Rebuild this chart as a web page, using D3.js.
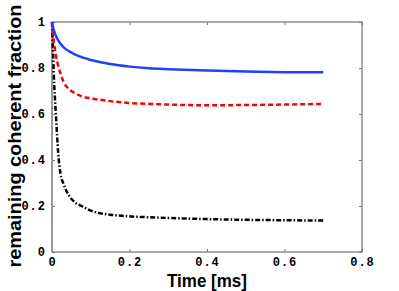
<!DOCTYPE html>
<html>
<head>
<meta charset="utf-8">
<script src="https://cdn.jsdelivr.net/npm/d3@7"></script>
<style>
  body { margin: 0; background: #fff; }
  svg { display: block; }
</style>
</head>
<body>
<svg width="399" height="291"></svg>
<script>
// time samples [ms] shared by all series
const times = [0, 0.003, 0.006, 0.01, 0.016, 0.022, 0.03, 0.046, 0.06, 0.08, 0.1, 0.12, 0.15, 0.2, 0.25, 0.3, 0.4, 0.5, 0.6, 0.7];
const blueVals = [1, 0.975, 0.958, 0.94, 0.92, 0.905, 0.89, 0.871, 0.858, 0.845, 0.835, 0.827, 0.817, 0.806, 0.799, 0.795, 0.789, 0.785, 0.782, 0.781];
const redVals = [1, 0.94, 0.9, 0.855, 0.81, 0.775, 0.74, 0.705, 0.69, 0.675, 0.668, 0.663, 0.656, 0.648, 0.644, 0.641, 0.638, 0.639, 0.641, 0.644];
const blackVals = [1, 0.85, 0.72, 0.6, 0.43, 0.34, 0.295, 0.24, 0.215, 0.197, 0.18, 0.17, 0.162, 0.155, 0.151, 0.148, 0.143, 0.14, 0.138, 0.137];
const xTicks = [0, 0.2, 0.4, 0.6, 0.8];
const yTicks = [0, 0.2, 0.4, 0.6, 0.8, 1];

const svg = d3.select('svg');
const margin = { top: 22, right: 37, bottom: 39, left: 52 };
const width = 399 - margin.left - margin.right;
const height = 291 - margin.top - margin.bottom;

const chart = svg.append('g')
    .attr('transform', `translate(${margin.left},${margin.top})`);

const x = d3.scaleLinear().domain([0, 0.8]).range([0, width]);
const y = d3.scaleLinear().domain([0, 1]).range([height, 0]);

// frame
chart.append('rect')
    .attr('width', width)
    .attr('height', height)
    .attr('fill', 'none')
    .attr('stroke', '#555')
    .attr('stroke-width', 1);

const tickFont = g => g.selectAll('text')
    .style('font-family', '"Liberation Mono", "DejaVu Sans Mono", monospace')
    .style('font-size', '12px')
    .style('font-weight', 'bold')
    .style('letter-spacing', '1px')
    .attr('fill', '#000');

const clean = g => {
    g.select('.domain').remove();
    g.selectAll('.tick line').attr('stroke', '#777');
};

// bottom axis
chart.append('g')
    .attr('transform', `translate(0,${height})`)
    .call(d3.axisBottom(x).tickValues(xTicks).tickSizeInner(-3).tickSizeOuter(0).tickPadding(5)
        .tickFormat(d => d === 0 ? '0' : d3.format('.1f')(d)))
    .call(clean)
    .call(tickFont);

// top ticks
chart.append('g')
    .call(d3.axisTop(x).tickValues(xTicks).tickSizeInner(-3).tickSizeOuter(0).tickFormat(''))
    .call(clean);

// left axis
chart.append('g')
    .call(d3.axisLeft(y).tickValues(yTicks).tickSizeInner(-3).tickSizeOuter(0).tickPadding(6)
        .tickFormat(d => d === 0 ? '0' : d === 1 ? '1' : d3.format('.1f')(d)))
    .call(clean)
    .call(tickFont);

// right ticks
chart.append('g')
    .attr('transform', `translate(${width},0)`)
    .call(d3.axisRight(y).tickValues(yTicks).tickSizeInner(-3).tickSizeOuter(0).tickFormat(''))
    .call(clean);

// thicker grey left spine
chart.append('line')
    .attr('x1', 0).attr('x2', 0)
    .attr('y1', 0).attr('y2', height)
    .attr('stroke', '#999')
    .attr('stroke-width', 2);

const line = vals => d3.line()
    .x((d, i) => x(times[i]))
    .y(d => y(d))
    .curve(d3.curveMonotoneX)(vals);

chart.append('path')
    .attr('d', line(blackVals))
    .attr('fill', 'none')
    .attr('stroke', '#000')
    .attr('stroke-width', 2.5)
    .attr('stroke-dasharray', '5,2,1.5,2');

chart.append('path')
    .attr('d', line(redVals))
    .attr('fill', 'none')
    .attr('stroke', '#ff0000')
    .attr('stroke-width', 2.5)
    .attr('stroke-dasharray', '5,3');

chart.append('path')
    .attr('d', line(blueVals))
    .attr('fill', 'none')
    .attr('stroke', '#1f3fff')
    .attr('stroke-width', 2.5);

// axis labels
svg.append('text')
    .attr('x', margin.left + width / 2)
    .attr('y', 286.5)
    .attr('text-anchor', 'middle')
    .attr('textLength', 80)
    .attr('lengthAdjust', 'spacingAndGlyphs')
    .style('font-family', '"Liberation Sans", Arial, sans-serif')
    .style('font-size', '18px')
    .style('font-weight', 'bold')
    .text('Time [ms]');

svg.append('text')
    .attr('transform', `translate(21,136) rotate(-90)`)
    .attr('text-anchor', 'middle')
    .attr('textLength', 263)
    .attr('lengthAdjust', 'spacingAndGlyphs')
    .style('font-family', '"Liberation Sans", Arial, sans-serif')
    .style('font-size', '18.5px')
    .style('font-weight', 'bold')
    .text('remaining coherent fraction');
</script>
</body>
</html>
